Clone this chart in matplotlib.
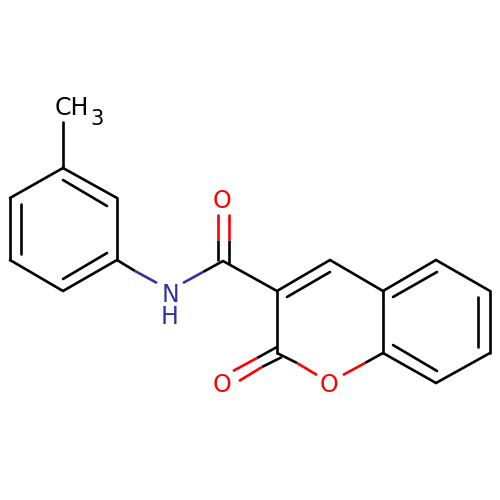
import matplotlib
matplotlib.use("Agg")
import matplotlib.pyplot as plt

BLACK = "#000000"; RED = "#FF0000"; BLUE = "#3333A0"

# atom positions in picture pixels
atoms = {
    "a1": (63, 168), "a2": (117, 198), "a3": (117, 260), "a4": (63, 291),
    "a5": (10, 260), "a6": (10, 198), "me": (63, 122),
    "c_am": (223, 261), "c3": (277, 291), "c4": (330, 260), "c4a": (383, 291),
    "c8a": (383, 353), "c5": (436, 260), "c6": (490, 291), "c7": (490, 353),
    "c8": (436, 383), "c2": (277, 353),
}
single_black = [("a1", "a2"), ("a2", "a3"), ("a3", "a4"), ("a4", "a5"), ("a5", "a6"), ("a6", "a1"),
                ("a1", "me"), ("c_am", "c3"), ("c3", "c4"), ("c4", "c4a"), ("c4a", "c8a"),
                ("c4a", "c5"), ("c5", "c6"), ("c6", "c7"), ("c7", "c8"), ("c8", "c8a"), ("c2", "c3")]
inner_bonds = [((107, 206), (63, 180)), ((21, 204), (21, 254)), ((107, 253), (63, 279)),
               ((287, 297), (330, 272)), ((393, 297), (437, 272)), ((478, 297), (478, 347)),
               ((393, 345), (437, 371))]
# hetero bonds: start, colour switch, end, colour of the far half
hetero_bonds = [((117, 260), (135, 271), (157, 283), BLUE),
                ((223, 261), (203, 272), (183, 283), BLUE),
                ((218, 261), (218, 240), (218, 214), RED),
                ((229, 264), (229, 240), (229, 214), RED),
                ((383, 353), (365, 363), (343, 375), RED),
                ((277, 353), (297, 363), (317, 375), RED),
                ((277, 347), (257, 358), (233, 371), RED),
                ((282, 357), (262, 367), (239, 381), RED)]
labels = [("O", 222, 199, RED), ("O", 222, 383, RED), ("O", 329, 383, RED),
          ("N", 170, 292, BLUE), ("H", 170, 315, BLUE)]

fig = plt.figure(figsize=(5, 5), dpi=100, facecolor="white")
ax = fig.add_axes([0, 0, 1, 1])
ax.set_xlim(0, 500); ax.set_ylim(500, 0); ax.axis("off")
lw = 1.9
kw = dict(lw=lw, solid_capstyle="round", solid_joinstyle="round")

for p, q in single_black:
    ax.plot([atoms[p][0], atoms[q][0]], [atoms[p][1], atoms[q][1]], color=BLACK, **kw)
for p, q in inner_bonds:
    ax.plot([p[0], q[0]], [p[1], q[1]], color=BLACK, **kw)
for s, m, e, col in hetero_bonds:
    ax.plot([s[0], m[0]], [s[1], m[1]], color=BLACK, lw=lw, solid_capstyle="butt")
    ax.plot([m[0], e[0]], [m[1], e[1]], color=col, lw=lw, solid_capstyle="butt")
for t, x, y, col in labels:
    ax.text(x, y, t, color=col, fontsize=17, ha="center", va="center_baseline", family="DejaVu Sans")
ax.text(55, 115, "CH", color=BLACK, fontsize=17, ha="left", va="baseline", family="DejaVu Sans")
ax.text(90, 125, "3", color=BLACK, fontsize=15, ha="left", va="baseline", family="DejaVu Sans")

fig.savefig("out.png", dpi=100, facecolor="white")
